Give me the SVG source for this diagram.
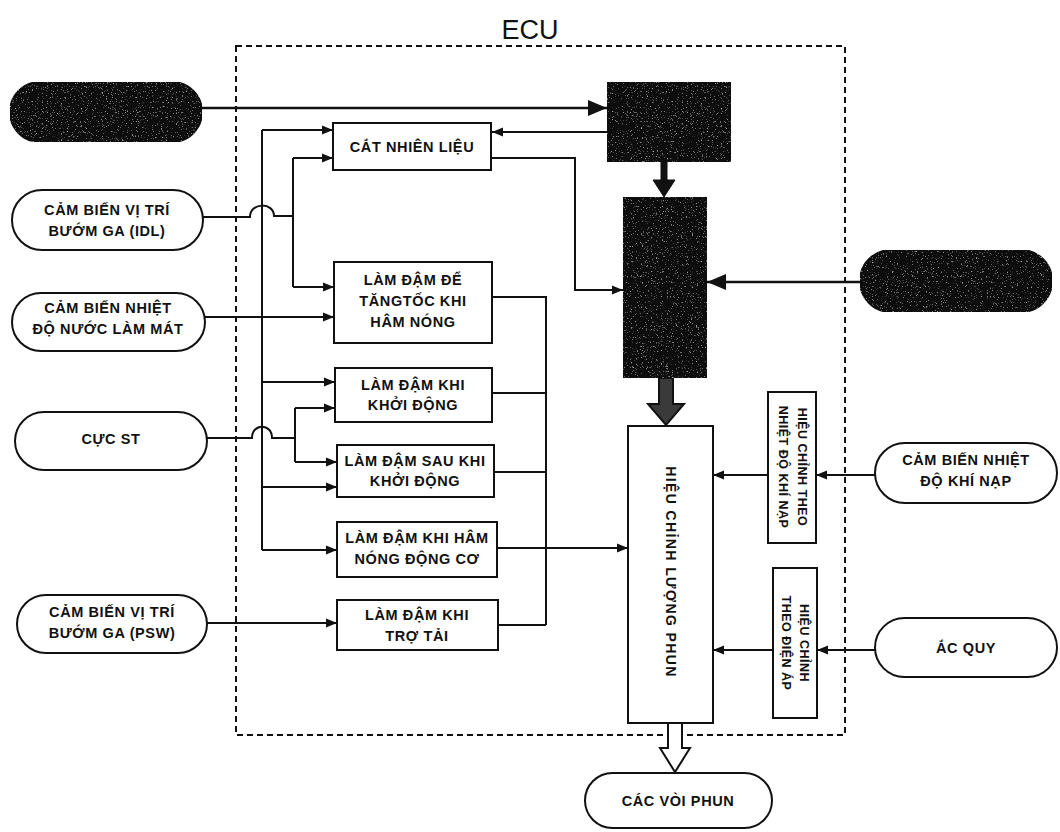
<svg xmlns="http://www.w3.org/2000/svg" width="1060" height="832" viewBox="0 0 1060 832">
<style>
.t{font-family:"Liberation Sans",Arial,sans-serif;font-weight:700;font-size:14.5px;text-anchor:middle;fill:#111;letter-spacing:0.6px}
.box{fill:#fff;stroke:#111;stroke-width:2}
.pill{fill:#fff;stroke:#111;stroke-width:2}
.dark{fill:#111;stroke:#111;stroke-width:2;filter:url(#grain)}
.ln{fill:none;stroke:#111;stroke-width:2}
.ar{fill:none;stroke:#111;stroke-width:2;marker-end:url(#ah)}
.arb{fill:none;stroke:#111;stroke-width:2.5;marker-end:url(#ahb)}
.rs{font-size:12.5px;letter-spacing:0.5px}
</style>
<defs>
<marker id="ah" markerUnits="userSpaceOnUse" markerWidth="12" markerHeight="10" refX="11" refY="5" orient="auto"><path d="M0,0.5 L11,5 L0,9.5 z" fill="#111"/></marker>
<marker id="ahb" markerUnits="userSpaceOnUse" markerWidth="20" markerHeight="16" refX="19" refY="8" orient="auto"><path d="M0,0 L19,8 L0,16 z" fill="#111"/></marker>
<filter id="grain" x="0" y="0" width="100%" height="100%">
<feTurbulence type="fractalNoise" baseFrequency="0.8" numOctaves="2" seed="7" result="n"/>
<feColorMatrix in="n" type="matrix" values="0 0 0 0 0.5 0 0 0 0 0.5 0 0 0 0 0.5 4 0 0 0 -2.55" result="d"/>
<feComposite in="d" in2="SourceGraphic" operator="in" result="c"/>
<feMerge><feMergeNode in="SourceGraphic"/><feMergeNode in="c"/></feMerge>
</filter>
</defs>
<rect width="1060" height="832" fill="#fff"/>

<g id="ecu">
<rect x="236" y="46" width="609" height="689" fill="none" stroke="#111" stroke-width="2" stroke-dasharray="6 4"/>
<text x="530" y="39" style="font-family:'Liberation Sans',Arial,sans-serif;font-size:27px;text-anchor:middle;fill:#111">ECU</text>
</g>

<g id="connectors">
<path class="arb" d="M202,108 H607"/>
<path class="ar" d="M607,132 H492"/>
<path class="ar" d="M491,158 H575 V290 H623"/>
<path class="ln" d="M203,217 H250 C250,202 274,202 274,216 H293"/>
<path class="ln" d="M293,158 V287"/>
<path class="ar" d="M293,158 H333"/>
<path class="ar" d="M293,287 H334"/>
<path class="ln" d="M262,130 V550"/>
<path class="ar" d="M262,130 H333"/>
<path class="ar" d="M262,382 H335"/>
<path class="ar" d="M262,487 H337"/>
<path class="ar" d="M262,550 H337"/>
<path class="ar" d="M205,317 H334"/>
<path class="ln" d="M207,438 H252 C252,423 272,423 272,438 H295"/>
<path class="ln" d="M295,408 V462"/>
<path class="ar" d="M295,408 H335"/>
<path class="ar" d="M295,462 H337"/>
<path class="ar" d="M207,623 H337"/>
<path class="ln" d="M492,297 H546 V625"/>
<path class="ln" d="M492,393 H546"/>
<path class="ln" d="M494,472 H546"/>
<path class="ln" d="M498,625 H546"/>
<path class="ar" d="M497,548 H628"/>
<path class="arb" d="M860,282 H707"/>
<path class="ar" d="M875,475 H816"/>
<path class="ar" d="M768,475 H713"/>
<path class="ar" d="M875,650 H817"/>
<path class="ar" d="M773,650 H713"/>
<path d="M661,162 H667 V180 H675 L664,197 L653,180 H661 Z" fill="#111" stroke="#111" stroke-width="1"/>
<path d="M659,378 H673 V404 H684 L666,425 L648,404 H659 Z" fill="#3a3a3a" stroke="#111" stroke-width="2"/>
<path d="M668,723 H682 V748 H690 L675,772 L660,748 H668 Z" fill="#fff" stroke="#111" stroke-width="2"/>
</g>

<g id="n-dark-left"><rect class="dark" x="10" y="82" width="192" height="60" rx="30"/></g>
<g id="n-idl"><rect class="pill" x="12" y="190" width="191" height="60" rx="30"/>
<text class="t" x="107" y="215">CẢM BIẾN VỊ TRÍ</text><text class="t" x="107" y="236">BƯỚM GA (IDL)</text></g>
<g id="n-coolant"><rect class="pill" x="12" y="293" width="193" height="58" rx="29"/>
<text class="t" x="108" y="313">CẢM BIẾN NHIỆT</text><text class="t" x="108" y="334">ĐỘ NƯỚC LÀM MÁT</text></g>
<g id="n-st"><rect class="pill" x="15" y="412" width="192" height="58" rx="29"/>
<text class="t" x="111" y="444">CỰC ST</text></g>
<g id="n-psw"><rect class="pill" x="17" y="595" width="190" height="58" rx="29"/>
<text class="t" x="112" y="617">CẢM BIẾN VỊ TRÍ</text><text class="t" x="112" y="638">BƯỚM GA (PSW)</text></g>

<g id="n-cut"><rect class="box" x="333" y="123" width="158" height="47"/>
<text class="t" x="412" y="152">CẮT NHIÊN LIỆU</text></g>
<g id="n-accel"><rect class="box" x="334" y="262" width="158" height="81"/>
<text class="t" x="413" y="285">LÀM ĐẬM ĐỂ</text><text class="t" x="413" y="306">TĂNGTỐC KHI</text><text class="t" x="413" y="327">HÂM NÓNG</text></g>
<g id="n-start"><rect class="box" x="335" y="368" width="157" height="54"/>
<text class="t" x="413" y="390">LÀM ĐẬM KHI</text><text class="t" x="413" y="410">KHỞI ĐỘNG</text></g>
<g id="n-after"><rect class="box" x="337" y="445" width="157" height="52"/>
<text class="t" x="415" y="466">LÀM ĐẬM SAU KHI</text><text class="t" x="415" y="486">KHỞI ĐỘNG</text></g>
<g id="n-warm"><rect class="box" x="337" y="522" width="160" height="55"/>
<text class="t" x="417" y="543">LÀM ĐẬM KHI HÂM</text><text class="t" x="417" y="564">NÓNG ĐỘNG CƠ</text></g>
<g id="n-power"><rect class="box" x="337" y="600" width="161" height="50"/>
<text class="t" x="417" y="620">LÀM ĐẬM KHI</text><text class="t" x="417" y="641">TRỢ TẢI</text></g>

<g id="n-dark1"><rect class="dark" x="607" y="82" width="124" height="80"/></g>
<g id="n-dark2"><rect class="dark" x="623" y="197" width="84" height="181"/></g>
<g id="n-main"><rect class="box" x="628" y="426" width="85" height="297"/>
<text class="t" transform="translate(671,572) rotate(90)" x="0" y="5" style="letter-spacing:1.4px;font-size:14px">HIỆU CHỈNH LƯỢNG PHUN</text></g>
<g id="n-corr-temp"><rect class="box" x="768" y="392" width="48" height="151"/>
<g transform="translate(792,467) rotate(90)"><text class="t rs" x="0" y="-6">HIỆU CHỈNH THEO</text><text class="t rs" x="0" y="13">NHIỆT ĐỘ KHÍ NẠP</text></g></g>
<g id="n-corr-volt"><rect class="box" x="773" y="568" width="44" height="150"/>
<g transform="translate(795,643) rotate(90)"><text class="t rs" x="0" y="-5">HIỆU CHỈNH</text><text class="t rs" x="0" y="13">THEO ĐIỆN ÁP</text></g></g>

<g id="n-dark-right"><rect class="dark" x="860" y="250" width="192" height="62" rx="31"/></g>
<g id="n-iat"><rect class="pill" x="875" y="443" width="182" height="60" rx="30"/>
<text class="t" x="966" y="465">CẢM BIẾN NHIỆT</text><text class="t" x="966" y="486">ĐỘ KHÍ NẠP</text></g>
<g id="n-batt"><rect class="pill" x="875" y="618" width="182" height="59" rx="29.5"/>
<text class="t" x="966" y="653">ẮC QUY</text></g>
<g id="n-inj"><rect class="pill" x="585" y="773" width="187" height="55" rx="27.5"/>
<text class="t" x="678" y="806">CÁC VÒI PHUN</text></g>
</svg>
